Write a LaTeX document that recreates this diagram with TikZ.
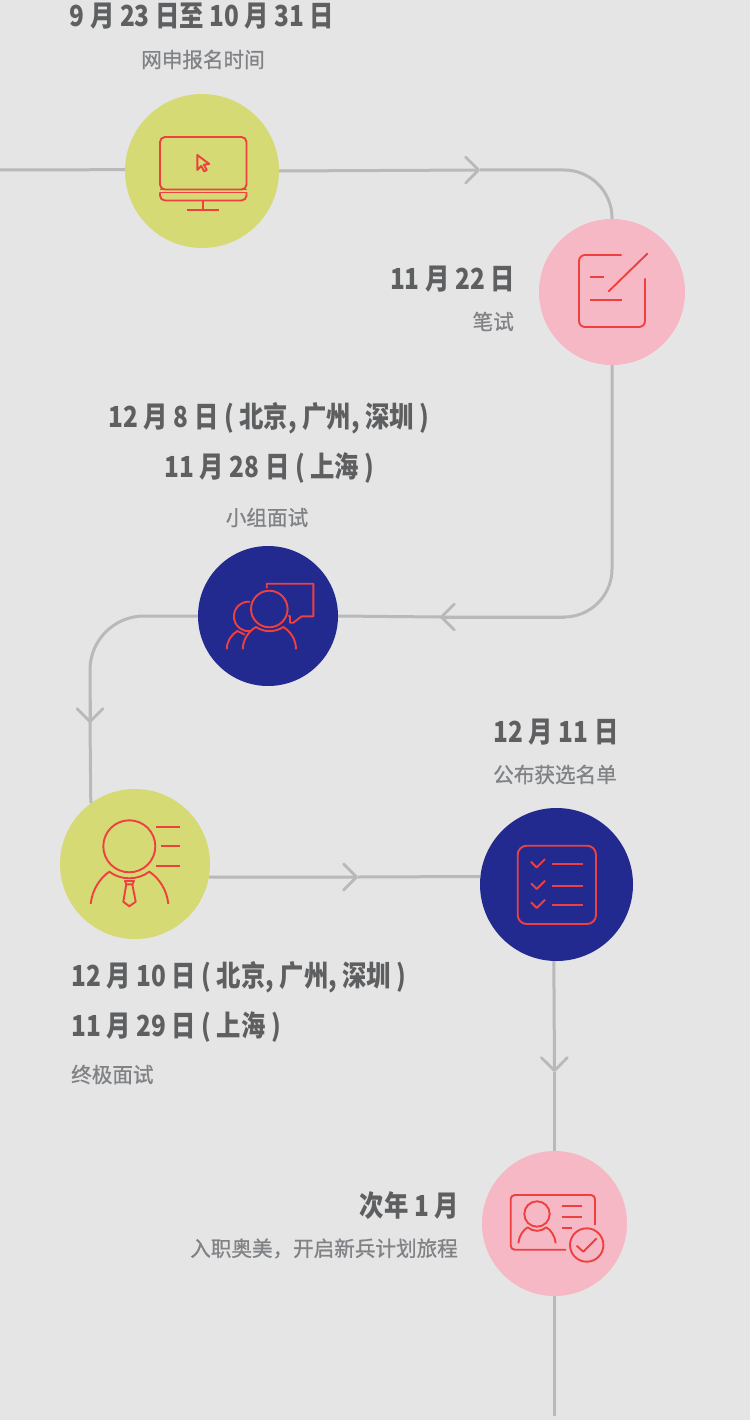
\documentclass[tikz,border=0pt]{standalone}
\usepackage{fontspec}
\setmainfont{Noto Sans CJK SC}
\newfontfamily\datefont[FakeStretch=0.84]{Noto Sans CJK SC}
\newfontfamily\subfont[FakeStretch=0.98,FakeBold=0.8]{Noto Sans CJK SC}
\usetikzlibrary{arrows.meta}
\definecolor{bggray}{HTML}{E5E5E5}
\definecolor{linegray}{HTML}{B9B9B9}
\definecolor{leaf}{HTML}{D5DA74}
\definecolor{blush}{HTML}{F7B8C6}
\definecolor{navy}{HTML}{232A8F}
\definecolor{iconred}{HTML}{EF4040}
\definecolor{datecol}{HTML}{5E5F61}
\definecolor{subcol}{HTML}{808285}
\tikzset{
  stage/.style={circle,inner sep=0pt,minimum size=#1},
  conn/.style={linegray,line width=3pt},
  tipped/.style={conn,-{Straight Barb[length=13pt,width=26pt,line width=2.8pt,round]}},
  icon/.style={iconred,line width=1.9pt,line join=round},
  datetext/.style={inner sep=0pt,text=datecol,font=\fontsize{29}{29}\selectfont\datefont\bfseries},
  subtext/.style={inner sep=0pt,text=subcol,font=\fontsize{21}{21}\selectfont\subfont}
}
\begin{document}
\begin{tikzpicture}[x=1pt,y=-1pt]
            \useasboundingbox (0,0) rectangle (750,1420);
            \fill[bggray] (0,0) rectangle (750,1420);
            \node[stage=154pt,fill=leaf] (apply) at (202,171) {};
            \node[stage=146pt,fill=blush] (exam) at (612,292) {};
            \node[stage=140pt,fill=navy] (group) at (268,616) {};
            \node[stage=150pt,fill=leaf] (final) at (135,864) {};
            \node[stage=153pt,fill=navy] (list) at (556.5,884.5) {};
            \node[stage=145pt,fill=blush] (join) at (554.5,1223.5) {};
            \coordinate (start) at (0,170);
            \coordinate (stop) at (554.5,1416);
            \coordinate (tipa) at (480,170);
            \coordinate (tipb) at (440,617);
            \coordinate (tipc) at (90,723);
            \coordinate (tipd) at (358,877);
            \coordinate (tipe) at (554.5,1072);
            \draw[conn] (start) -- (apply.179.25);
            \draw[tipped] (apply.0.75) -- (tipa);
            \draw[conn,rounded corners=48pt] (tipa) -| (exam.north);
            \draw[conn,rounded corners=48pt] (exam.south) |- (tipb);
            \draw[tipped] (exam.south |- tipb) ++(-47,0) -- (tipb);
            \draw[conn] (tipb) -- (group.-0.8);
            \draw[conn,rounded corners=54pt] (group.180.8) -| (tipc);
            \draw[tipped] (90,700) -- (tipc);
            \draw[conn] (tipc) -- (final.126.87);
            \draw[tipped] (final.-10) -- (tipd);
            \draw[conn] (tipd) -- (list.174.75);
            \draw[tipped] (list.268.5) -- (tipe);
            \draw[conn] (tipe) -- (join.north);
            \draw[conn] (join.south) -- (stop);

            \node[datetext] (applydate) at (202,16) {9 月 23 日至 10 月 31 日};
            \node[subtext] (applysub) at (203,59.5) {网申报名时间};
            \node[datetext,anchor=east] (examdate) at (515,279) {11 月 22 日};
            \node[subtext,anchor=east] (examsub) at (514,321.5) {笔试};
            \node[datetext] (groupdatea) at (269,418) {12 月 8 日 ( 北京, 广州, 深圳 )};
            \node[datetext] (groupdateb) at (269.5,468) {11 月 28 日 ( 上海 )};
            \node[subtext] (groupsub) at (267,517.5) {小组面试};
            \node[datetext] (listdate) at (556,732) {12 月 11 日};
            \node[subtext] (listsub) at (555,774.5) {公布获选名单};
            \node[datetext,anchor=west] (finaldatea) at (71,977) {12 月 10 日 ( 北京, 广州, 深圳 )};
            \node[datetext,anchor=west] (finaldateb) at (71,1027) {11 月 29 日 ( 上海 )};
            \node[subtext,anchor=west] (finalsub) at (71,1074.5) {终极面试};
            \node[datetext,anchor=east] (joindate) at (459,1206) {次年 1 月};
            \node[subtext,anchor=east] (joinsub) at (458,1248.5) {入职奥美，开启新兵计划旅程};

            \draw[icon,rounded corners=5pt] (160,189.5) -- (160,137) -- (246.5,137) -- (246.5,189.5) -- cycle;
            \draw[icon] (160,189.5) -- (246.5,189.5);
            \draw[icon,rounded corners=5pt] (160,192.5) -- (160,200.5) -- (246.5,200.5) -- (246.5,192.5);
            \draw[icon] (160,192.5) -- (246.5,192.5);
            \draw[icon] (202.7,200.5) -- (202.7,210);
            \draw[icon] (187,210) -- (219,210);
            \draw[icon] (197.3,155) -- (209.3,164) -- (204,164.7) -- (206.7,170) -- (204,171.3) -- (201.3,166) -- (197.3,170) -- cycle;

            \draw[icon,rounded corners=6pt] (621.7,255) -- (579,255) -- (579,327) -- (645,327) -- (645,278.3);
            \draw[icon] (590,277) -- (604,277);
            \draw[icon] (590,300) -- (622.3,300);
            \draw[icon] (608.3,291.7) -- (647.7,253.3);

            \draw[icon] (266.7,588.3) -- (266.7,583.7) -- (313.3,583.7) -- (313.3,616.3) -- (301.7,616.3) -- (293.3,622.7) -- (290,622.7) -- (290,616) -- (288.3,616);
            \draw[icon] (269.3,609) circle (18.3);
            \draw[icon] (250,601.7) arc[start angle=-85,end angle=-275,radius=14.8];
            \draw[icon] (242.7,649.3) .. controls (243,639) and (249,631) .. (256,627) .. controls (264,632.5) and (275,632.5) .. (283.3,627) .. controls (290,631) and (296,639) .. (296,649.3);
            \draw[icon] (226.7,649.3) .. controls (227,641) and (231,635) .. (237.3,631) -- (245,634.7);

            \draw[icon] (129.3,846.3) circle (26);
            \draw[icon] (156,826.7) -- (180,826.7);
            \draw[icon] (161,846) -- (180,846);
            \draw[icon] (156,866) -- (180,866);
            \draw[icon] (90.7,904) .. controls (92,890) and (100,878) .. (109.3,871.7) .. controls (121,880.5) and (137.5,880.5) .. (149.3,871.7) .. controls (159,878) and (167,890) .. (168.3,904);
            \draw[icon] (125,881) -- (134,881) -- (132.3,884.3) -- (126.3,884.3) -- cycle;
            \draw[icon] (126.3,884.3) -- (123.3,901.7) -- (129.3,906.3) -- (135.7,901.7) -- (132.3,884.3);

            \draw[icon,rounded corners=9pt] (517.7,845.7) rectangle (596,924);
            \foreach \y in {861.7,883.3,902.3}
                \draw[icon] (531,\y) -- ++(5.7,5.7) -- ++(8.3,-8.3);
            \foreach \y in {864,885.7,905}
                \draw[icon] (552,\y) -- (583.3,\y);

            \draw[icon,rounded corners=4pt] (595,1225) -- (595,1195) -- (510.7,1195) -- (510.7,1249.7) -- (566,1249.7);
            \draw[icon] (537,1214) circle (12.7);
            \draw[icon] (518.3,1243.3) .. controls (519,1236) and (523,1230) .. (527.7,1227.3) .. controls (533,1232) and (541,1232) .. (546.3,1227.3) .. controls (551,1230) and (555,1236) .. (555.7,1243.3);
            \foreach \y/\x in {1206/581.7,1217/581.7,1227.7/572.3}
                \draw[icon] (562,\y) -- (\x,\y);
            \draw[icon] (586.7,1245) circle (16.7);
            \draw[icon] (576.7,1245.7) -- (583.3,1251.7) -- (596.7,1238.3);
        \end{tikzpicture}
\end{document}
